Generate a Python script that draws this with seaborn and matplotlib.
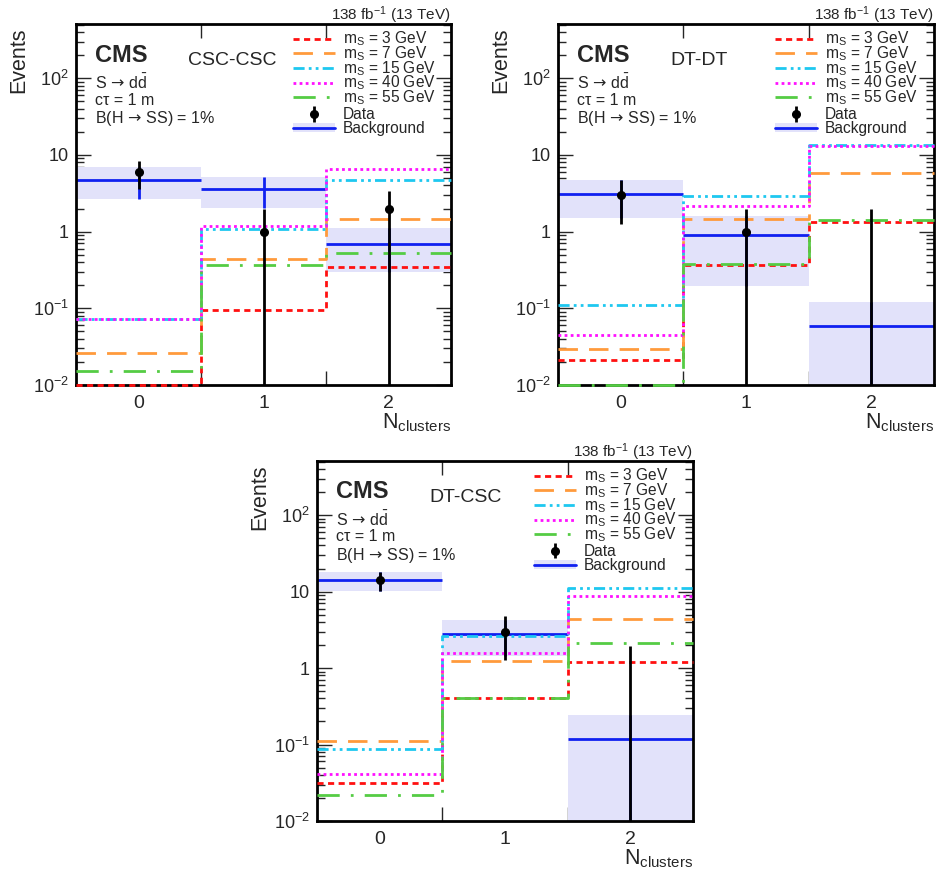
import numpy as np
import matplotlib
matplotlib.use('Agg')
import matplotlib.pyplot as plt
import seaborn as sns
from matplotlib.lines import Line2D
from matplotlib.patches import Patch
from matplotlib.ticker import FixedLocator, LogLocator, NullFormatter

# ---- data ----
n_clusters = [0, 1, 2]
bin_edges = [-0.5, 0.5, 1.5, 2.5]
mass_points = ['3', '7', '15', '40', '55']

# CSC-CSC
sig_csccsc = {
    '3': [0.01, 0.096, 0.345],
    '7': [0.0264, 0.443, 1.47],
    '15': [0.0735, 1.08, 4.7],
    '40': [0.073, 1.17, 6.6],
    '55': [0.0152, 0.366, 0.52],
}
bkg_csccsc = [4.7, 3.58, 0.69]
bkg_lo_csccsc = [2.67, 2.06, 0.30]
bkg_hi_csccsc = [6.87, 5.09, 1.12]
data_csccsc = [6, 1, 2]
data_lo_csccsc = [3.55, 0, 0]
data_hi_csccsc = [8.45, 2.0, 3.4]

# DT-DT
sig_dtdt = {
    '3': [0.0214, 0.37, 1.34],
    '7': [0.0298, 1.47, 5.74],
    '15': [0.111, 2.9, 13.6],
    '40': [0.0454, 2.17, 13.2],
    '55': [0.01, 0.377, 1.42],
}
bkg_dtdt = [3.11, 0.895, 0.0595]
bkg_lo_dtdt = [1.51, 0.197, 0]
bkg_hi_dtdt = [4.74, 1.6, 0.12]
data_dtdt = [3, 1, 0]
data_lo_dtdt = [1.27, 0, 0]
data_hi_dtdt = [4.73, 2.0, 1.95]

# DT-CSC
sig_dtcsc = {
    '3': [0.0318, 0.41, 1.19],
    '7': [0.112, 1.23, 4.32],
    '15': [0.0867, 2.59, 11.1],
    '40': [0.0417, 1.55, 8.8],
    '55': [0.0219, 0.40, 2.1],
}
bkg_dtcsc = [13.96, 2.81, 0.119]
bkg_lo_dtcsc = [10.1, 1.42, 0]
bkg_hi_dtcsc = [17.8, 4.2, 0.241]
data_dtcsc = [14, 3, 0]
data_lo_dtcsc = [10.26, 1.27, 0]
data_hi_dtcsc = [17.74, 4.73, 1.95]

# ---- style ----
sig_colors = {'3': '#ff1010', '7': '#ff9a3c', '15': '#1ec8f0', '40': '#ff10ff', '55': '#55cc44'}
sig_styles = {
    '3': (0, (2.2, 1.6)),
    '7': (0, (7, 4)),
    '15': (0, (4, 1.5, 1, 1.5, 1, 1.5)),
    '40': (0, (1, 1.2)),
    '55': (0, (8, 4, 1, 4)),
}
bkg_color = '#1020f0'
band_color = '#e2e2fa'

sns.set_style('ticks')
plt.rcParams['font.family'] = ['Liberation Sans', 'DejaVu Sans']
plt.rcParams['mathtext.fontset'] = 'custom'
plt.rcParams['mathtext.rm'] = 'Liberation Sans'
plt.rcParams['mathtext.it'] = 'Liberation Sans:italic'
plt.rcParams['mathtext.bf'] = 'Liberation Sans:bold'
plt.rcParams['mathtext.sf'] = 'DejaVu Sans'

W, H = 936, 873
fig = plt.figure(figsize=(W / 100, H / 100), dpi=100)


def px_axes(left, top, right, bottom):
    return fig.add_axes([left / W, (H - bottom) / H, (right - left) / W, (bottom - top) / H])


panels = [
    (px_axes(76, 24, 451, 385), 'CSC-CSC', sig_csccsc, bkg_csccsc, bkg_lo_csccsc, bkg_hi_csccsc,
     data_csccsc, data_lo_csccsc, data_hi_csccsc),
    (px_axes(558, 24, 934, 385), 'DT-DT', sig_dtdt, bkg_dtdt, bkg_lo_dtdt, bkg_hi_dtdt,
     data_dtdt, data_lo_dtdt, data_hi_dtdt),
    (px_axes(317, 461, 693, 821), 'DT-CSC', sig_dtcsc, bkg_dtcsc, bkg_lo_dtcsc, bkg_hi_dtcsc,
     data_dtcsc, data_lo_dtcsc, data_hi_dtcsc),
]

leg_kw = dict(loc='upper left', frameon=False, fontsize=11.2, handlelength=2.7,
              handleheight=0.55, handletextpad=0.5, borderpad=0, borderaxespad=0)

for ax, region, sig, bkg, bkg_lo, bkg_hi, data, data_lo, data_hi in panels:
    bkg = np.array(bkg)
    bkg_lo = np.array(bkg_lo)
    bkg_hi = np.array(bkg_hi)
    data = np.array(data, dtype=float)

    # background uncertainty band + central value
    ax.bar(n_clusters, bkg_hi - bkg_lo, bottom=bkg_lo, width=1.0, color=band_color,
           linewidth=0, zorder=1)
    ax.errorbar(n_clusters, bkg, xerr=0.5, yerr=[bkg - bkg_lo, bkg_hi - bkg],
                fmt='none', ecolor=bkg_color, elinewidth=2, capsize=0, zorder=2)

    # signal histograms
    sig_handles = []
    for m in mass_points:
        sns.histplot(x=n_clusters, weights=sig[m], bins=bin_edges, element='step', fill=False,
                     color=sig_colors[m], linestyle=sig_styles[m], linewidth=2, ax=ax,
                     zorder=5, clip_on=False)
        sig_handles.append(Line2D([], [], color=sig_colors[m], ls=sig_styles[m], lw=2))
    sig_labels = [r'm$_{\mathrm{S}}$ = %s GeV' % m for m in mass_points]

    # data
    cont = ax.errorbar(n_clusters, data, yerr=[data - np.array(data_lo), np.array(data_hi) - data],
                       fmt='o', color='black', ms=5.5, elinewidth=2, capsize=0, zorder=6)
    bkg_handle = (Patch(facecolor=band_color, edgecolor='none'),
                  Line2D([], [], color=bkg_color, lw=2))

    ax.set_yscale('log')
    ax.set_ylim(0.01, 509)
    ax.set_xlim(-0.5, 2.5)
    ax.set_xlabel('')
    ax.set_ylabel('')

    ax.yaxis.set_major_locator(FixedLocator([0.01, 0.1, 1, 10, 100]))
    ax.set_yticklabels([r'10$^{-2}$', r'10$^{-1}$', '1', '10', r'10$^{2}$'])
    ax.yaxis.set_minor_locator(LogLocator(base=10, subs=np.arange(2, 10)))
    ax.yaxis.set_minor_formatter(NullFormatter())
    ax.tick_params(axis='y', which='both', direction='in', left=True, right=True, labelsize=13, pad=5)
    ax.tick_params(axis='y', which='major', length=11, width=1)
    ax.tick_params(axis='y', which='minor', length=6, width=1)

    ax.set_xticks([0.5, 1.5])
    ax.set_xticklabels(['', ''])
    ax.set_xticks(n_clusters, minor=True)
    ax.set_xticklabels([str(n) for n in n_clusters], minor=True)
    ax.tick_params(axis='x', which='major', direction='in', top=True, bottom=True, length=10, width=1)
    ax.tick_params(axis='x', which='minor', length=0, labelsize=14, pad=7)

    for s in ax.spines.values():
        s.set_linewidth(2)
        s.set_color('black')
        s.set_zorder(4)

    leg1 = ax.legend(sig_handles, sig_labels, bbox_to_anchor=(0.578, 0.984),
                     labelspacing=-0.26, **leg_kw)
    ax.add_artist(leg1)
    ax.legend([cont, bkg_handle], ['Data', 'Background'], bbox_to_anchor=(0.578, 0.770),
              labelspacing=-0.06, **leg_kw)

    ax.text(1.0, 1.012, r'138 fb$^{-1}$ (13 TeV)', transform=ax.transAxes, ha='right',
            va='baseline', fontsize=11)
    ax.text(-0.152, 0.99, 'Events', transform=ax.transAxes, rotation=90, ha='center',
            va='top', fontsize=15.5)
    ax.text(1.0, -0.072, r'N$_{\mathrm{clusters}}$', transform=ax.transAxes, ha='right',
            va='top', fontsize=15.5)
    ax.text(0.051, 0.914, 'CMS', transform=ax.transAxes, fontweight='bold', fontsize=17,
            ha='left', va='center')
    ax.text(0.299, 0.90, region, transform=ax.transAxes, fontsize=14, ha='left', va='center')
    ax.text(0.05, 0.837, r'S$\,\mathsf{\rightarrow}\,$d$\bar{\mathrm{d}}$', transform=ax.transAxes,
            fontsize=11.5, ha='left', va='center')
    ax.text(0.05, 0.789, 'cτ = 1 m', transform=ax.transAxes, fontsize=11.5,
            ha='left', va='center')
    ax.text(0.05, 0.737, r'B(H$\,\mathsf{\rightarrow}\,$SS) = 1%', transform=ax.transAxes,
            fontsize=11.5, ha='left', va='center')

fig.savefig('out.png', dpi=100)
